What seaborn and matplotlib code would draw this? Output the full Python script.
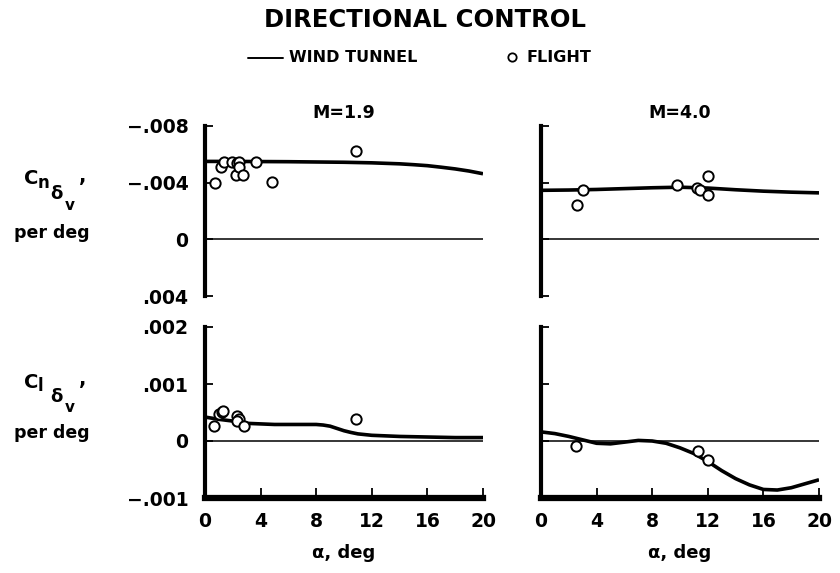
import numpy as np
import pandas as pd
import matplotlib
matplotlib.use("Agg")
import matplotlib.pyplot as plt
from matplotlib.lines import Line2D
import seaborn as sns

# ---------------- data ----------------
# Yawing moment, M = 1.9
alpha_wt_cn19 = [0, 2, 4, 6, 8, 10, 12, 14, 15, 16, 17, 18, 19, 20]
cn_wt_19 = [-0.0055, -0.0055, -0.00549, -0.00548, -0.00546, -0.00544, -0.0054,
            -0.00533, -0.00527, -0.0052, -0.00509, -0.00497, -0.00482, -0.00463]
alpha_fl_cn19 = [0.72, 1.13, 1.39, 1.92, 2.28, 2.45, 2.23, 2.47, 2.76, 3.67, 4.8, 10.86]
cn_fl_19 = [-0.00398, -0.0051, -0.00545, -0.00543, -0.0054, -0.00545, -0.00456,
            -0.0051, -0.00451, -0.00543, -0.00405, -0.00627]

# Yawing moment, M = 4.0
alpha_wt_cn40 = [0, 2, 4, 6, 8, 10, 12, 14, 16, 18, 20]
cn_wt_40 = [-0.00346, -0.00348, -0.00352, -0.00358, -0.00364, -0.00368, -0.00362,
            -0.0035, -0.0034, -0.00333, -0.00328]
alpha_fl_cn40 = [2.57, 3.04, 9.76, 11.2, 11.44, 12.04, 12.04]
cn_fl_40 = [-0.0024, -0.0035, -0.00386, -0.0036, -0.0035, -0.0045, -0.00314]

# Rolling moment, M = 1.9
alpha_wt_cl19 = [0, 1, 2, 3, 4, 5, 6, 7, 8, 8.5, 9, 9.5, 10, 10.5, 11, 12, 13, 14, 16, 18, 20]
cl_wt_19 = [0.00042, 0.00038, 0.00035, 0.00031, 0.0003, 0.00029, 0.00029, 0.00029,
            0.00029, 0.00028, 0.00026, 0.00022, 0.00018, 0.00015, 0.000125, 0.0001,
            0.00009, 0.00008, 0.00007, 0.00006, 0.00006]
alpha_fl_cl19 = [0.67, 1.0, 1.2, 1.32, 2.33, 2.45, 2.28, 2.8, 10.86]
cl_fl_19 = [0.000256, 0.00048, 0.00051, 0.00052, 0.00043, 0.00039, 0.00035, 0.00026, 0.00039]

# Rolling moment, M = 4.0
alpha_wt_cl40 = [0, 1, 2, 3, 4, 5, 6, 7, 8, 9, 10, 11, 12, 13, 14, 15, 16, 17, 18, 19, 20]
cl_wt_40 = [0.00016, 0.00013, 0.00008, 0.00002, -0.00004, -0.00005, -0.00002, 0.00001,
            0.0, -0.00004, -0.00012, -0.00022, -0.00036, -0.00052, -0.00066, -0.00077,
            -0.00085, -0.00086, -0.00082, -0.00075, -0.00068]
alpha_fl_cl40 = [2.5, 11.3, 12.0]
cl_fl_40 = [-0.00009, -0.00018, -0.00034]

x_ticks = [0, 4, 8, 12, 16, 20]
x_ticklabels = ["0", "4", "8", "12", "16", "20"]
cn_ticks = [-0.008, -0.004, 0, 0.004]
cn_ticklabels = ["\u2212.008", "\u2212.004", "0", ".004"]
cl_ticks = [0.002, 0.001, 0, -0.001]
cl_ticklabels = [".002", ".001", "0", "\u2212.001"]

# ---------------- figure ----------------
sns.set_style("white")
plt.rcParams["font.family"] = ["DejaVu Sans"]
plt.rcParams["font.weight"] = "bold"
plt.rcParams["text.color"] = "black"
plt.rcParams["axes.labelcolor"] = "black"
plt.rcParams["xtick.color"] = "black"
plt.rcParams["ytick.color"] = "black"

W, H = 840, 573
fig = plt.figure(figsize=(W / 100, H / 100), dpi=100)


def fx(px):
    return px / W


def fy(py):
    return 1 - py / H


ax_tl = fig.add_axes([fx(205), fy(296), 278 / W, 170 / H])
ax_tr = fig.add_axes([fx(541), fy(296), 278 / W, 170 / H])
ax_bl = fig.add_axes([fx(205), fy(498), 278 / W, 171 / H])
ax_br = fig.add_axes([fx(541), fy(498), 278 / W, 171 / H])

panels = [
    (ax_tl, alpha_wt_cn19, cn_wt_19, alpha_fl_cn19, cn_fl_19, "top", True),
    (ax_tr, alpha_wt_cn40, cn_wt_40, alpha_fl_cn40, cn_fl_40, "top", False),
    (ax_bl, alpha_wt_cl19, cl_wt_19, alpha_fl_cl19, cl_fl_19, "bottom", True),
    (ax_br, alpha_wt_cl40, cl_wt_40, alpha_fl_cl40, cl_fl_40, "bottom", False),
]

for ax, aw, vw, af, vf, row, left in panels:
    ax.set_facecolor("none")
    ax.axhline(0, color="black", lw=1.1, zorder=1)
    dfw = pd.DataFrame({"alpha": aw, "val": vw})
    sns.lineplot(data=dfw, x="alpha", y="val", ax=ax, color="black", lw=2.6,
                 estimator=None, sort=False, zorder=3, solid_capstyle="butt")
    dff = pd.DataFrame({"alpha": af, "val": vf})
    sns.scatterplot(data=dff, x="alpha", y="val", ax=ax, s=55, marker="o",
                    facecolor="white", edgecolor="black", linewidth=1.4, zorder=4)
    ax.set_xlim(0, 20)
    ax.set_xlabel("")
    ax.set_ylabel("")
    for s in ["top", "right"]:
        ax.spines[s].set_visible(False)
    ax.spines["left"].set_linewidth(3.0)
    ax.spines["left"].set_color("black")
    ax.tick_params(axis="y", left=True, direction="in", length=6, width=1.3,
                   color="black", labelcolor="black", labelsize=13.5, pad=12)
    if row == "top":
        ax.set_ylim(0.004, -0.008)
        ax.set_yticks(cn_ticks)
        ax.set_yticklabels(cn_ticklabels if left else [])
        ax.spines["bottom"].set_visible(False)
        ax.set_xticks([])
    else:
        ax.set_ylim(-0.001, 0.002)
        ax.set_yticks(cl_ticks)
        ax.set_yticklabels(cl_ticklabels if left else [])
        ax.spines["bottom"].set_linewidth(4.5)
        ax.spines["bottom"].set_color("black")
        ax.set_xticks(x_ticks)
        ax.set_xticklabels(x_ticklabels)
        ax.tick_params(axis="x", bottom=True, direction="in", length=7, width=1.3,
                       color="black", labelcolor="black", labelsize=13.5, pad=10)
    for lab in ax.get_xticklabels() + ax.get_yticklabels():
        lab.set_fontweight("bold")

# titles / texts
fig.text(fx(425), fy(20), "DIRECTIONAL CONTROL", ha="center", va="center",
         fontsize=17.5, fontweight="bold")

# legend
fig.add_artist(Line2D([fx(248), fx(283)], [fy(58), fy(58)], color="black", lw=1.4,
                      transform=fig.transFigure))
fig.text(fx(289), fy(58), "WIND TUNNEL", ha="left", va="center", fontsize=11.5,
         fontweight="bold")
fig.add_artist(Line2D([fx(512)], [fy(57)], marker="o", markersize=6,
                      markerfacecolor="white", markeredgecolor="black",
                      markeredgewidth=1.3, linestyle="none",
                      transform=fig.transFigure))
fig.text(fx(526), fy(58), "FLIGHT", ha="left", va="center", fontsize=11.5,
         fontweight="bold")

fig.text(fx(344), fy(113), "M=1.9", ha="center", va="center", fontsize=12.5,
         fontweight="bold")
fig.text(fx(680), fy(113), "M=4.0", ha="center", va="center", fontsize=12.5,
         fontweight="bold")

for cx in (344, 680):
    fig.text(fx(cx), fy(553), "\u03b1, deg", ha="center", va="center", fontsize=13,
             fontweight="bold")


# y-axis labels
def ylabel(y0, sub):
    fig.text(fx(24), fy(y0), "C", ha="left", va="center", fontsize=14,
             fontweight="bold")
    fig.text(fx(38), fy(y0 + 4), sub, ha="left", va="center", fontsize=12,
             fontweight="bold")
    fig.text(fx(50), fy(y0 + 15), "\u03b4", ha="left", va="center", fontsize=13,
             fontweight="bold")
    fig.text(fx(65), fy(y0 + 26), "v", ha="left", va="center", fontsize=11,
             fontweight="bold")
    fig.text(fx(79), fy(y0 - 2), ",", ha="left", va="center", fontsize=14,
             fontweight="bold")


ylabel(179, "n")
fig.text(fx(52), fy(233), "per deg", ha="center", va="center", fontsize=12.5,
         fontweight="bold")
ylabel(382, "l")
fig.text(fx(52), fy(433), "per deg", ha="center", va="center", fontsize=12.5,
         fontweight="bold")

fig.savefig("out.png", dpi=100)
